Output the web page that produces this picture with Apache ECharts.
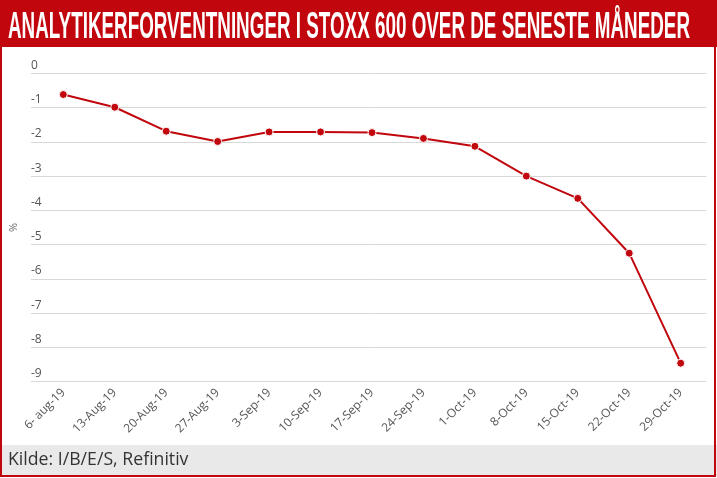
<!DOCTYPE html>
<html>
<head>
<meta charset="utf-8">
<script src="https://cdn.jsdelivr.net/npm/echarts@6/dist/echarts.min.js"></script>
<style>
html,body{margin:0;padding:0;background:#fff;}
#chart{width:717px;height:478px;}
</style>
</head>
<body>
<div id="chart"></div>
<script>
const titleText = 'ANALYTIKERFORVENTNINGER I STOXX 600 OVER DE SENESTE MÅNEDER';
const sourceText = 'Kilde: I/B/E/S, Refinitiv';
const unitLabel = '%';
const categories = ['6- aug-19','13-Aug-19','20-Aug-19','27-Aug-19','3-Sep-19','10-Sep-19','17-Sep-19','24-Sep-19','1-Oct-19','8-Oct-19','15-Oct-19','22-Oct-19','29-Oct-19'];
const values = [-0.62,-0.99,-1.69,-1.99,-1.71,-1.71,-1.73,-1.90,-2.13,-3.00,-3.65,-5.25,-8.46];
const yMin = -9, yMax = 0, yStep = 1;

const RED = '#c1070d';
const titleFont = 'bold 36px "Liberation Sans", Arial, sans-serif';
const ctx = document.createElement('canvas').getContext('2d');
ctx.font = titleFont;
const titleW = ctx.measureText(titleText).width;
const titleScale = 682 / titleW;

const chart = echarts.init(document.getElementById('chart'), null, {renderer:'canvas'});
const option = {
  backgroundColor: '#fff',
  animation: false,
  grid: [
    {left: 22, right: 10.6, top: 73.3, bottom: 96.3},
    {left: 37.6, right: 10.6, top: 73.3, bottom: 96.3}
  ],
  xAxis: [
    {gridIndex: 0, type: 'category', data: categories, show: false},
    {gridIndex: 1, type: 'category', data: categories, boundaryGap: true,
     axisLine: {show: false}, axisTick: {show: false},
     axisLabel: {rotate: 45, interval: 0, margin: 9, color: '#555', fontSize: 12, fontFamily: '"Open Sans", sans-serif'}}
  ],
  yAxis: [
    {gridIndex: 0, type: 'value', min: yMin, max: yMax, interval: yStep,
     name: unitLabel, nameLocation: 'middle', nameRotate: 90, nameGap: 12,
     nameTextStyle: {color: '#666', fontSize: 11, fontFamily: '"Open Sans", sans-serif'},
     axisLine: {show: false}, axisTick: {show: false},
     splitLine: {lineStyle: {color: '#d8d8d8', width: 1}},
     axisLabel: {inside: true, margin: 0, verticalAlign: 'bottom', padding: [0,0,2,0], color: '#555', fontSize: 12, fontFamily: '"Open Sans", sans-serif'}},
    {gridIndex: 1, type: 'value', min: yMin, max: yMax, interval: yStep, show: false, splitLine: {show: false}}
  ],
  series: [{
    type: 'line', xAxisIndex: 1, yAxisIndex: 1, data: values,
    symbol: 'circle', symbolSize: 8,
    lineStyle: {color: RED, width: 2},
    itemStyle: {color: RED, borderColor: '#fff', borderWidth: 1},
    z: 5
  }],
  graphic: [
    {type: 'rect', shape: {x: 0, y: 0, width: 717, height: 47}, style: {fill: RED}, z: 1},
    {type: 'text', x: 8, y: 28, scaleX: titleScale, scaleY: 1,
     style: {text: titleText, font: titleFont, fill: '#fff', verticalAlign: 'middle', align: 'left'}, z: 2},
    {type: 'rect', shape: {x: 0, y: 445, width: 717, height: 31}, style: {fill: '#e9e9e9'}, z: 0},
    {type: 'text', x: 8, y: 460, style: {text: sourceText, font: '17.7px "Open Sans", sans-serif', fill: '#333', verticalAlign: 'middle', align: 'left'}, z: 2},
    {type: 'rect', shape: {x: 1, y: 1, width: 714, height: 475}, style: {fill: null, stroke: RED, lineWidth: 2}, z: 3}
  ]
};
chart.setOption(option);
</script>
</body>
</html>
